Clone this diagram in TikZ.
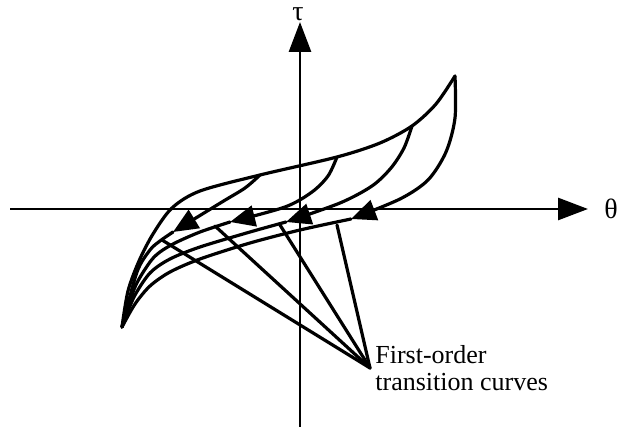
\documentclass[tikz,border=0pt]{standalone}
\usepackage{fontspec}
\setmainfont{Liberation Serif}
\usetikzlibrary{arrows.meta}

\begin{document}
\begin{tikzpicture}[x=0.5pt,y=-0.5pt,line join=round]
  \tikzset{
    curve/.style={line width=1.6pt,line cap=round},
    axis/.style={line width=1.4pt,-{Triangle[length=15pt,width=11pt]}},
    flowtip/.style={-{Triangle[length=12.5pt,width=10.5pt]}},
    pointer/.style={line width=1.6pt,line cap=round}
  }
  \useasboundingbox (0,0) rectangle (621,431);

  % Axes.
  \coordinate (xl) at (10,209);
  \coordinate (xr) at (588,209);
  \coordinate (yb) at (300,427);
  \coordinate (yt) at (300,22);
  \draw[axis] (xl) -- (xr);
  \draw[axis] (yb) -- (yt);
  \node[font=\fontsize{14}{16}\selectfont] (theta) at (611,209) {θ};
  \node[font=\fontsize{14}{16}\selectfont] (tau) at (298,14) {τ};

  % Outer boundary.
  \draw[curve] plot[smooth] coordinates {(122,327) (128,291) (139,261) (153,234) (172,208) (200,191) (260,175) (337,157) (380,143) (412,126) (436,104) (455,76)};

  % Transition curves, upper parts with tips.
  \draw[curve,flowtip] plot[smooth] coordinates {(455,76) (455,118) (446,152) (428,180) (400,199) (351,219)};
  \draw[curve,flowtip] plot[smooth] coordinates {(412,126) (404,148) (391,168) (372,186) (340,203) (286,222)};
  \draw[curve,flowtip] plot[smooth] coordinates {(337,157) (328,176) (312,192) (285,207) (230,222)};
  \draw[curve,flowtip] plot[smooth] coordinates {(260,175) (245,188) (222,202) (173,232)};

  % Lower parts into the cusp.
  \draw[curve] plot[smooth] coordinates {(351,219) (300,230) (250,243) (200,259) (170,272) (150,286) (135,304) (122,327)};
  \draw[curve] plot[smooth] coordinates {(286,222) (250,232) (200,247) (170,259) (150,273) (134,297) (122,327)};
  \draw[curve] plot[smooth] coordinates {(230,222) (200,232) (175,243) (160,252) (150,262) (135,287) (122,327)};
  \draw[curve] plot[smooth] coordinates {(173,232) (160,241) (150,250) (137,272) (122,327)};

  % Label and pointers.
  \node[anchor=base west,inner sep=0pt,align=left,font=\fontsize{13}{13.5}\selectfont] (lbl) at (375,391) {First-order\\transition curves};
  \coordinate (hub) at (370,368);
  \coordinate (p1) at (162,240);
  \coordinate (p2) at (215,226);
  \coordinate (p3) at (280,225);
  \coordinate (p4) at (337,225);
  \foreach \p in {p1,p2,p3,p4}
    \draw[pointer] (hub) -- (\p);
\end{tikzpicture}
\end{document}
